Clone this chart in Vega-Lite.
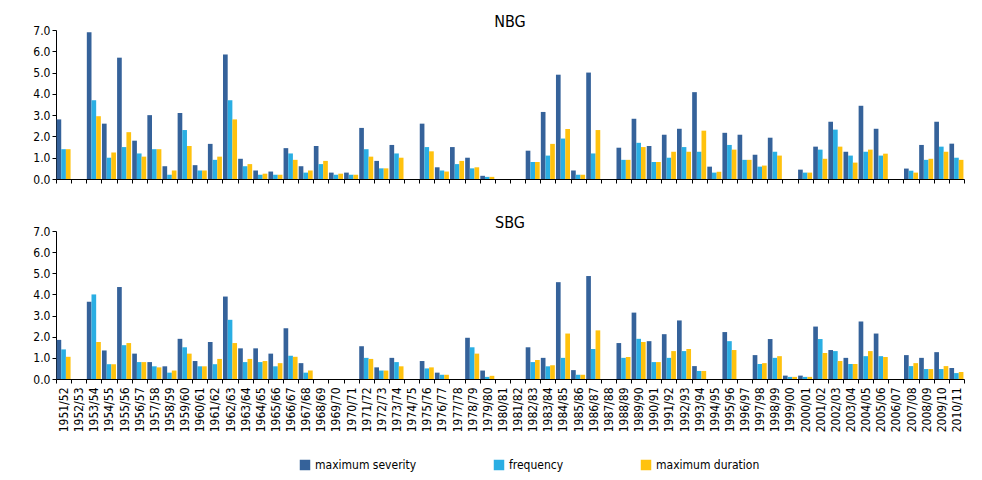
{
  "$schema": "https://vega.github.io/schema/vega-lite/v6.json",
  "padding": {"top": 14, "left": 32, "right": 6, "bottom": 4},
  "background": "white",
  "config": {
    "font": "DejaVu Sans",
    "view": {"stroke": null},
    "axis": {"grid": false, "domainColor": "#000", "tickColor": "#000", "labelColor": "#000", "labelFontSize": 12, "labelFont": "DejaVu Sans Condensed"},
    "title": {"fontSize": 16, "fontWeight": "normal", "font": "DejaVu Sans Condensed", "anchor": "middle"}
  },
  "resolve": {"legend": {"color": "independent"}, "scale": {"color": "independent"}},
  "data": {"values": [
    {"g":"NBG","s":"1951/52","maximum severity":2.8,"frequency":1.4,"maximum duration":1.4},
    {"g":"NBG","s":"1952/53","maximum severity":0,"frequency":0,"maximum duration":0},
    {"g":"NBG","s":"1953/54","maximum severity":6.9,"frequency":3.7,"maximum duration":2.95},
    {"g":"NBG","s":"1954/55","maximum severity":2.6,"frequency":1.0,"maximum duration":1.25},
    {"g":"NBG","s":"1955/56","maximum severity":5.7,"frequency":1.5,"maximum duration":2.2},
    {"g":"NBG","s":"1956/57","maximum severity":1.8,"frequency":1.2,"maximum duration":1.05},
    {"g":"NBG","s":"1957/58","maximum severity":3.0,"frequency":1.4,"maximum duration":1.4},
    {"g":"NBG","s":"1958/59","maximum severity":0.6,"frequency":0.2,"maximum duration":0.4},
    {"g":"NBG","s":"1959/60","maximum severity":3.1,"frequency":2.3,"maximum duration":1.55},
    {"g":"NBG","s":"1960/61","maximum severity":0.65,"frequency":0.4,"maximum duration":0.4},
    {"g":"NBG","s":"1961/62","maximum severity":1.65,"frequency":0.9,"maximum duration":1.05},
    {"g":"NBG","s":"1962/63","maximum severity":5.85,"frequency":3.7,"maximum duration":2.8},
    {"g":"NBG","s":"1963/64","maximum severity":0.95,"frequency":0.6,"maximum duration":0.7},
    {"g":"NBG","s":"1964/65","maximum severity":0.4,"frequency":0.2,"maximum duration":0.25},
    {"g":"NBG","s":"1965/66","maximum severity":0.35,"frequency":0.2,"maximum duration":0.2},
    {"g":"NBG","s":"1966/67","maximum severity":1.45,"frequency":1.2,"maximum duration":0.9},
    {"g":"NBG","s":"1967/68","maximum severity":0.6,"frequency":0.3,"maximum duration":0.4},
    {"g":"NBG","s":"1968/69","maximum severity":1.55,"frequency":0.7,"maximum duration":0.85},
    {"g":"NBG","s":"1969/70","maximum severity":0.3,"frequency":0.2,"maximum duration":0.25},
    {"g":"NBG","s":"1970/71","maximum severity":0.3,"frequency":0.2,"maximum duration":0.2},
    {"g":"NBG","s":"1971/72","maximum severity":2.4,"frequency":1.4,"maximum duration":1.05},
    {"g":"NBG","s":"1972/73","maximum severity":0.85,"frequency":0.5,"maximum duration":0.5},
    {"g":"NBG","s":"1973/74","maximum severity":1.6,"frequency":1.2,"maximum duration":1.0},
    {"g":"NBG","s":"1974/75","maximum severity":0,"frequency":0,"maximum duration":0},
    {"g":"NBG","s":"1975/76","maximum severity":2.6,"frequency":1.5,"maximum duration":1.3},
    {"g":"NBG","s":"1976/77","maximum severity":0.55,"frequency":0.4,"maximum duration":0.35},
    {"g":"NBG","s":"1977/78","maximum severity":1.5,"frequency":0.7,"maximum duration":0.85},
    {"g":"NBG","s":"1978/79","maximum severity":1.0,"frequency":0.5,"maximum duration":0.55},
    {"g":"NBG","s":"1979/80","maximum severity":0.15,"frequency":0.1,"maximum duration":0.1},
    {"g":"NBG","s":"1980/81","maximum severity":0,"frequency":0,"maximum duration":0},
    {"g":"NBG","s":"1981/82","maximum severity":0,"frequency":0,"maximum duration":0},
    {"g":"NBG","s":"1982/83","maximum severity":1.33,"frequency":0.8,"maximum duration":0.8},
    {"g":"NBG","s":"1983/84","maximum severity":3.15,"frequency":1.1,"maximum duration":1.65},
    {"g":"NBG","s":"1984/85","maximum severity":4.9,"frequency":1.9,"maximum duration":2.35},
    {"g":"NBG","s":"1985/86","maximum severity":0.4,"frequency":0.2,"maximum duration":0.2},
    {"g":"NBG","s":"1986/87","maximum severity":5.0,"frequency":1.2,"maximum duration":2.3},
    {"g":"NBG","s":"1987/88","maximum severity":0,"frequency":0,"maximum duration":0},
    {"g":"NBG","s":"1988/89","maximum severity":1.47,"frequency":0.9,"maximum duration":0.9},
    {"g":"NBG","s":"1989/90","maximum severity":2.83,"frequency":1.7,"maximum duration":1.5},
    {"g":"NBG","s":"1990/91","maximum severity":1.55,"frequency":0.8,"maximum duration":0.8},
    {"g":"NBG","s":"1991/92","maximum severity":2.08,"frequency":1.0,"maximum duration":1.28},
    {"g":"NBG","s":"1992/93","maximum severity":2.36,"frequency":1.5,"maximum duration":1.28},
    {"g":"NBG","s":"1993/94","maximum severity":4.08,"frequency":1.28,"maximum duration":2.27},
    {"g":"NBG","s":"1994/95","maximum severity":0.58,"frequency":0.3,"maximum duration":0.34},
    {"g":"NBG","s":"1995/96","maximum severity":2.17,"frequency":1.6,"maximum duration":1.38},
    {"g":"NBG","s":"1996/97","maximum severity":2.08,"frequency":0.9,"maximum duration":0.9},
    {"g":"NBG","s":"1997/98","maximum severity":1.14,"frequency":0.58,"maximum duration":0.63},
    {"g":"NBG","s":"1998/99","maximum severity":1.94,"frequency":1.28,"maximum duration":1.1},
    {"g":"NBG","s":"1999/00","maximum severity":0,"frequency":0,"maximum duration":0},
    {"g":"NBG","s":"2000/01","maximum severity":0.44,"frequency":0.3,"maximum duration":0.3},
    {"g":"NBG","s":"2001/02","maximum severity":1.52,"frequency":1.38,"maximum duration":0.95},
    {"g":"NBG","s":"2002/03","maximum severity":2.69,"frequency":2.32,"maximum duration":1.52},
    {"g":"NBG","s":"2003/04","maximum severity":1.28,"frequency":1.1,"maximum duration":0.77},
    {"g":"NBG","s":"2004/05","maximum severity":3.44,"frequency":1.28,"maximum duration":1.38},
    {"g":"NBG","s":"2005/06","maximum severity":2.36,"frequency":1.1,"maximum duration":1.19},
    {"g":"NBG","s":"2006/07","maximum severity":0,"frequency":0,"maximum duration":0},
    {"g":"NBG","s":"2007/08","maximum severity":0.49,"frequency":0.39,"maximum duration":0.3},
    {"g":"NBG","s":"2008/09","maximum severity":1.6,"frequency":0.9,"maximum duration":0.95},
    {"g":"NBG","s":"2009/10","maximum severity":2.69,"frequency":1.52,"maximum duration":1.28},
    {"g":"NBG","s":"2010/11","maximum severity":1.66,"frequency":1.0,"maximum duration":0.9},
    {"g":"SBG","s":"1951/52","maximum severity":1.85,"frequency":1.4,"maximum duration":1.05},
    {"g":"SBG","s":"1952/53","maximum severity":0,"frequency":0,"maximum duration":0},
    {"g":"SBG","s":"1953/54","maximum severity":3.65,"frequency":4.0,"maximum duration":1.75},
    {"g":"SBG","s":"1954/55","maximum severity":1.35,"frequency":0.7,"maximum duration":0.7},
    {"g":"SBG","s":"1955/56","maximum severity":4.35,"frequency":1.6,"maximum duration":1.7},
    {"g":"SBG","s":"1956/57","maximum severity":1.2,"frequency":0.8,"maximum duration":0.8},
    {"g":"SBG","s":"1957/58","maximum severity":0.8,"frequency":0.6,"maximum duration":0.55},
    {"g":"SBG","s":"1958/59","maximum severity":0.6,"frequency":0.3,"maximum duration":0.4},
    {"g":"SBG","s":"1959/60","maximum severity":1.9,"frequency":1.5,"maximum duration":1.2},
    {"g":"SBG","s":"1960/61","maximum severity":0.85,"frequency":0.6,"maximum duration":0.6},
    {"g":"SBG","s":"1961/62","maximum severity":1.75,"frequency":0.7,"maximum duration":0.95},
    {"g":"SBG","s":"1962/63","maximum severity":3.9,"frequency":2.8,"maximum duration":1.7},
    {"g":"SBG","s":"1963/64","maximum severity":1.45,"frequency":0.8,"maximum duration":0.95},
    {"g":"SBG","s":"1964/65","maximum severity":1.45,"frequency":0.8,"maximum duration":0.85},
    {"g":"SBG","s":"1965/66","maximum severity":1.2,"frequency":0.6,"maximum duration":0.75},
    {"g":"SBG","s":"1966/67","maximum severity":2.4,"frequency":1.1,"maximum duration":1.05},
    {"g":"SBG","s":"1967/68","maximum severity":0.75,"frequency":0.3,"maximum duration":0.4},
    {"g":"SBG","s":"1968/69","maximum severity":0,"frequency":0,"maximum duration":0},
    {"g":"SBG","s":"1969/70","maximum severity":0,"frequency":0,"maximum duration":0},
    {"g":"SBG","s":"1970/71","maximum severity":0,"frequency":0,"maximum duration":0},
    {"g":"SBG","s":"1971/72","maximum severity":1.55,"frequency":1.0,"maximum duration":0.95},
    {"g":"SBG","s":"1972/73","maximum severity":0.55,"frequency":0.4,"maximum duration":0.4},
    {"g":"SBG","s":"1973/74","maximum severity":1.0,"frequency":0.8,"maximum duration":0.6},
    {"g":"SBG","s":"1974/75","maximum severity":0,"frequency":0,"maximum duration":0},
    {"g":"SBG","s":"1975/76","maximum severity":0.85,"frequency":0.5,"maximum duration":0.55},
    {"g":"SBG","s":"1976/77","maximum severity":0.3,"frequency":0.2,"maximum duration":0.2},
    {"g":"SBG","s":"1977/78","maximum severity":0,"frequency":0,"maximum duration":0},
    {"g":"SBG","s":"1978/79","maximum severity":1.95,"frequency":1.5,"maximum duration":1.2},
    {"g":"SBG","s":"1979/80","maximum severity":0.4,"frequency":0.1,"maximum duration":0.15},
    {"g":"SBG","s":"1980/81","maximum severity":0,"frequency":0,"maximum duration":0},
    {"g":"SBG","s":"1981/82","maximum severity":0,"frequency":0,"maximum duration":0},
    {"g":"SBG","s":"1982/83","maximum severity":1.5,"frequency":0.8,"maximum duration":0.9},
    {"g":"SBG","s":"1983/84","maximum severity":1.0,"frequency":0.6,"maximum duration":0.65},
    {"g":"SBG","s":"1984/85","maximum severity":4.58,"frequency":1.0,"maximum duration":2.15},
    {"g":"SBG","s":"1985/86","maximum severity":0.42,"frequency":0.2,"maximum duration":0.2},
    {"g":"SBG","s":"1986/87","maximum severity":4.87,"frequency":1.42,"maximum duration":2.3},
    {"g":"SBG","s":"1987/88","maximum severity":0,"frequency":0,"maximum duration":0},
    {"g":"SBG","s":"1988/89","maximum severity":1.7,"frequency":1.0,"maximum duration":1.04},
    {"g":"SBG","s":"1989/90","maximum severity":3.14,"frequency":1.9,"maximum duration":1.75},
    {"g":"SBG","s":"1990/91","maximum severity":1.79,"frequency":0.8,"maximum duration":0.8},
    {"g":"SBG","s":"1991/92","maximum severity":2.12,"frequency":1.0,"maximum duration":1.32},
    {"g":"SBG","s":"1992/93","maximum severity":2.77,"frequency":1.32,"maximum duration":1.42},
    {"g":"SBG","s":"1993/94","maximum severity":0.61,"frequency":0.38,"maximum duration":0.38},
    {"g":"SBG","s":"1994/95","maximum severity":0,"frequency":0,"maximum duration":0},
    {"g":"SBG","s":"1995/96","maximum severity":2.22,"frequency":1.79,"maximum duration":1.37},
    {"g":"SBG","s":"1996/97","maximum severity":0,"frequency":0,"maximum duration":0},
    {"g":"SBG","s":"1997/98","maximum severity":1.13,"frequency":0.71,"maximum duration":0.75},
    {"g":"SBG","s":"1998/99","maximum severity":1.89,"frequency":1.0,"maximum duration":1.08},
    {"g":"SBG","s":"1999/00","maximum severity":0.16,"frequency":0.1,"maximum duration":0.1},
    {"g":"SBG","s":"2000/01","maximum severity":0.16,"frequency":0.1,"maximum duration":0.1},
    {"g":"SBG","s":"2001/02","maximum severity":2.48,"frequency":1.89,"maximum duration":1.23},
    {"g":"SBG","s":"2002/03","maximum severity":1.37,"frequency":1.32,"maximum duration":0.85},
    {"g":"SBG","s":"2003/04","maximum severity":1.0,"frequency":0.71,"maximum duration":0.71},
    {"g":"SBG","s":"2004/05","maximum severity":2.72,"frequency":1.08,"maximum duration":1.32},
    {"g":"SBG","s":"2005/06","maximum severity":2.15,"frequency":1.08,"maximum duration":1.04},
    {"g":"SBG","s":"2006/07","maximum severity":0,"frequency":0,"maximum duration":0},
    {"g":"SBG","s":"2007/08","maximum severity":1.13,"frequency":0.61,"maximum duration":0.75},
    {"g":"SBG","s":"2008/09","maximum severity":1.0,"frequency":0.47,"maximum duration":0.47},
    {"g":"SBG","s":"2009/10","maximum severity":1.27,"frequency":0.47,"maximum duration":0.61},
    {"g":"SBG","s":"2010/11","maximum severity":0.52,"frequency":0.28,"maximum duration":0.33}
  ]},
  "transform": [
    {"fold": ["maximum severity", "frequency", "maximum duration"], "as": ["series", "value"]}
  ],
  "spacing": 30,
  "vconcat": [
    {
      "title": {"text": "NBG", "offset": -6},
      "width": 908,
      "height": 149,
      "transform": [{"filter": "datum.g === 'NBG'"}],
      "mark": {"type": "bar"},
      "encoding": {
        "x": {"field": "s", "type": "nominal", "sort": null, "title": null,
              "scale": {"paddingInner": 0, "paddingOuter": 0},
              "axis": {"labels": false, "tickBand": "extent", "tickSize": 4}},
        "xOffset": {"field": "series", "sort": ["maximum severity", "frequency", "maximum duration"], "scale": {"paddingInner": 0, "paddingOuter": 0.12}},
        "y": {"field": "value", "type": "quantitative", "title": null,
              "scale": {"domain": [0, 7]},
              "axis": {"values": [0,1,2,3,4,5,6,7], "format": ".1f", "tickSize": 4}},
        "color": {"field": "series", "type": "nominal", "legend": null,
                  "sort": ["maximum severity", "frequency", "maximum duration"],
                  "scale": {"domain": ["maximum severity", "frequency", "maximum duration"], "range": ["#35629A", "#2AAEE3", "#FFC20E"]}}
      }
    },
    {
      "title": {"text": "SBG", "offset": -6},
      "width": 908,
      "height": 148,
      "transform": [{"filter": "datum.g === 'SBG'"}],
      "mark": {"type": "bar"},
      "encoding": {
        "x": {"field": "s", "type": "nominal", "sort": null, "title": null,
              "scale": {"paddingInner": 0, "paddingOuter": 0},
              "axis": {"labelAngle": 270, "tickBand": "extent", "tickSize": 4, "labelFontSize": 12, "labelPadding": 4}},
        "xOffset": {"field": "series", "sort": ["maximum severity", "frequency", "maximum duration"], "scale": {"paddingInner": 0, "paddingOuter": 0.12}},
        "y": {"field": "value", "type": "quantitative", "title": null,
              "scale": {"domain": [0, 7]},
              "axis": {"values": [0,1,2,3,4,5,6,7], "format": ".1f", "tickSize": 4}},
        "color": {"field": "series", "type": "nominal",
                  "sort": ["maximum severity", "frequency", "maximum duration"],
                  "scale": {"domain": ["maximum severity", "frequency", "maximum duration"], "range": ["#35629A", "#2AAEE3", "#FFC20E"]},
                  "legend": {"title": null, "orient": "none", "direction": "horizontal", "legendX": 243, "legendY": 228,
                             "symbolType": "square", "symbolSize": 110, "symbolStrokeWidth": 0, "labelFontSize": 12,
                             "labelFont": "DejaVu Sans Condensed", "columnPadding": 76}}
      }
    }
  ]
}
